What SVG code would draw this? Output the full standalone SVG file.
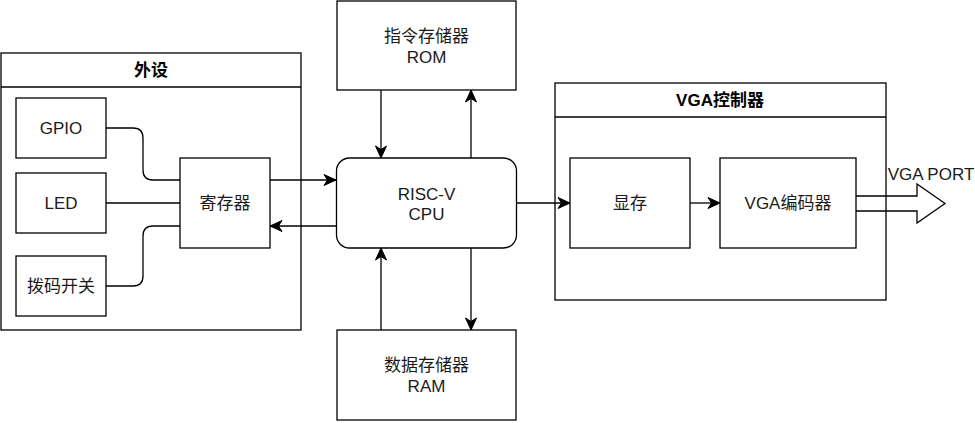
<svg xmlns="http://www.w3.org/2000/svg" width="975" height="423" viewBox="0 0 975 423">
<style>
.box{fill:#fff;stroke:#000;stroke-width:1.3}
.ln{fill:none;stroke:#000;stroke-width:1.3}
.t{font-family:"Liberation Sans","Noto Sans CJK SC",sans-serif;font-size:17px;fill:#1a1a1a;text-anchor:middle;dominant-baseline:central}
.b{font-weight:bold;fill:#000}
</style>
<defs>
<marker id="ar" markerUnits="userSpaceOnUse" markerWidth="14" markerHeight="14" viewBox="-13 -7 14 14" refX="0" refY="0" orient="auto">
<path d="M0,0 L-12,-5.5 L-8.5,0 L-12,5.5 Z" fill="#000" stroke="#000" stroke-width="1"/>
</marker>
</defs>
<rect x="0" y="0" width="975" height="423" fill="#fff"/>
<g id="peripherals">
<rect class="box" x="1" y="53" width="300" height="277"/>
<line class="ln" x1="1" y1="87" x2="301" y2="87"/>
<text class="t b" x="151" y="70">外设</text>
</g>
<g id="vga-controller">
<rect class="box" x="555" y="83" width="331" height="217"/>
<line class="ln" x1="555" y1="117" x2="886" y2="117"/>
<text class="t b" x="720" y="100">VGA控制器</text>
</g>
<g id="gpio">
<rect class="box" x="16" y="98" width="90" height="60"/>
<text class="t" x="61" y="128">GPIO</text>
</g>
<g id="led">
<rect class="box" x="16" y="173" width="90" height="60"/>
<text class="t" x="61" y="203">LED</text>
</g>
<g id="dip">
<rect class="box" x="16" y="256" width="90" height="60"/>
<text class="t" x="61" y="286">拨码开关</text>
</g>
<g id="reg">
<rect class="box" x="180" y="158" width="90" height="90"/>
<text class="t" x="225" y="203">寄存器</text>
</g>
<g id="rom">
<rect class="box" x="337" y="1" width="179" height="89"/>
<text class="t" x="426.5" y="36">指令存储器</text>
<text class="t" x="426.5" y="57">ROM</text>
</g>
<g id="cpu">
<rect class="box" x="336.5" y="158" width="180" height="90" rx="13" ry="13"/>
<text class="t" x="426.5" y="194">RISC-V</text>
<text class="t" x="426.5" y="214">CPU</text>
</g>
<g id="ram">
<rect class="box" x="337" y="330" width="179" height="90"/>
<text class="t" x="426.5" y="365">数据存储器</text>
<text class="t" x="426.5" y="386">RAM</text>
</g>
<g id="vram">
<rect class="box" x="570" y="158" width="120" height="90"/>
<text class="t" x="630" y="203">显存</text>
</g>
<g id="encoder">
<rect class="box" x="720" y="158" width="136" height="90"/>
<text class="t" x="788" y="203">VGA编码器</text>
</g>
<g id="connectors">
<path class="ln" d="M106,128 H133 Q143,128 143,138 V170 Q143,180 153,180 H180"/>
<path class="ln" d="M106,203 H180"/>
<path class="ln" d="M106,286 H133 Q143,286 143,276 V236 Q143,226 153,226 H180"/>
<path class="ln" d="M270,180 H336" marker-end="url(#ar)"/>
<path class="ln" d="M336.5,226 H270" marker-end="url(#ar)"/>
<path class="ln" d="M381,90 V158" marker-end="url(#ar)"/>
<path class="ln" d="M471,158 V90" marker-end="url(#ar)"/>
<path class="ln" d="M381,330 V248" marker-end="url(#ar)"/>
<path class="ln" d="M471,248 V330" marker-end="url(#ar)"/>
<path class="ln" d="M516.5,203 H570" marker-end="url(#ar)"/>
<path class="ln" d="M690,203 H720" marker-end="url(#ar)"/>
<path class="ln" d="M856,196 H917 V184 L945,203.5 L917,223 V211 H856"/>
<text class="t" x="931" y="174">VGA PORT</text>
</g>
</svg>
